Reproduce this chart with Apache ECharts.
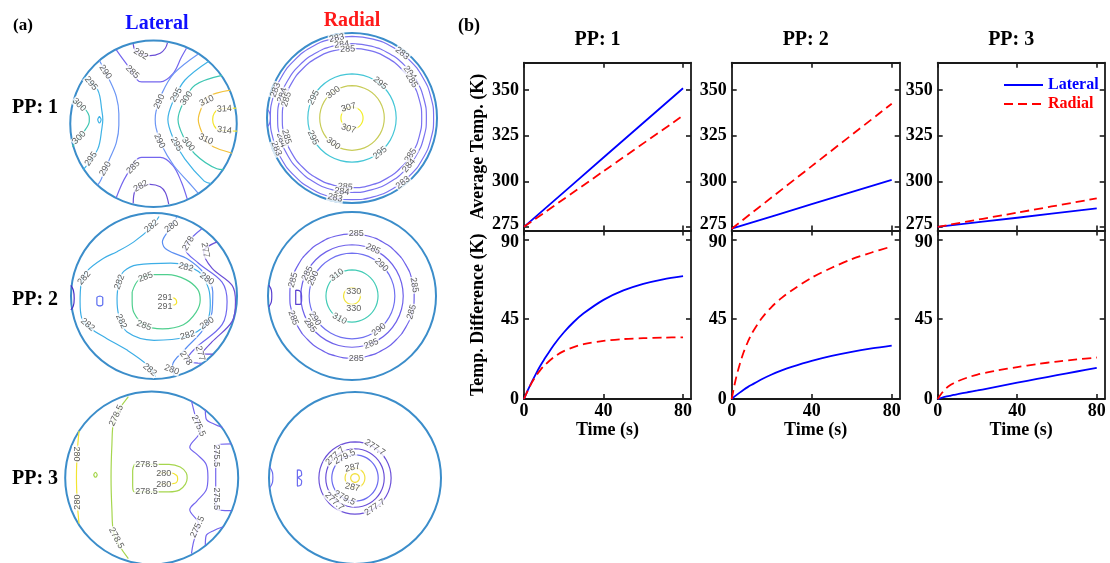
<!DOCTYPE html>
<html><head><meta charset="utf-8">
<script src="https://cdn.jsdelivr.net/npm/echarts@6/dist/echarts.min.js"></script>
<style>html,body{margin:0;padding:0;background:#fff}#c{width:1110px;height:563px}</style>
</head><body><div id="c"></div>
<script>
// ================= (b) DATA =================
const timeAvg = [0, 40, 80];
const avgLat1 = [275, 313, 351];
const avgRad1 = [275, 305.5, 336];
const avgLat2 = [274, 287.4, 300.7];
const avgRad2 = [274, 308.3, 342.5];
const avgLat3 = [275, 280, 285.1];
const avgRad3 = [275, 282.8, 290.6];

const timeDiff = [0, 2, 4, 6, 8, 10, 15, 20, 25, 30, 40, 50, 60, 70, 80];
const diffLat1 = [0, 5.1, 9.8, 14.2, 18.3, 22.0, 30.5, 37.5, 43.4, 48.3, 55.9, 61.2, 64.9, 67.5, 69.3];
const diffRad1 = [0, 5.0, 9.4, 13.0, 16.0, 18.6, 23.6, 27.0, 29.3, 30.9, 32.8, 33.8, 34.3, 34.6, 34.8];
const diffLat2 = [0, 1.9, 3.6, 5.2, 6.7, 8.0, 11.1, 13.8, 16.1, 18.1, 21.5, 24.3, 26.6, 28.5, 30.1];
const diffRad2 = [0, 11, 19.5, 26.5, 32, 36.8, 45.5, 52, 57, 61.2, 68.4, 74, 78.8, 82.6, 86];
const diffLat3 = [0, 0.7, 1.3, 1.8, 2.3, 2.7, 3.8, 4.8, 5.9, 7.0, 9.2, 11.3, 13.4, 15.5, 17.6];
const diffRad3 = [0, 3.2, 5.8, 7.6, 8.9, 10.0, 12.1, 13.8, 15.0, 16.1, 18.0, 19.7, 21.1, 22.3, 23.4];

const timeTicks = [0, 40, 80];
const avgTicks = [275, 300, 325, 350];
const diffTicks = [0, 45, 90];
const ppTitles = ['PP: 1', 'PP: 2', 'PP: 3'];

// ================= (a) DATA (normalised coords inside each disc) =================
const lat1Lines = [
 [282, [[-0.24,0.97],[-0.22,0.9],[-0.15,0.85],[-0.04,0.83],[0.08,0.86],[0.14,0.92],[0.165,0.986]]],
 [282, [[-0.24,-0.97],[-0.22,-0.82],[-0.15,-0.76],[-0.04,-0.74],[0.08,-0.77],[0.14,-0.84],[0.18,-0.98]]],
 [285, [[-0.44,0.90],[-0.32,0.73],[-0.14,0.51],[0.08,0.51],[0.23,0.61],[0.33,0.81],[0.39,0.92]]],
 [285, [[-0.44,-0.90],[-0.32,-0.63],[-0.14,-0.41],[0.08,-0.41],[0.23,-0.51],[0.33,-0.71],[0.40,-0.92]]],
 [290, [[-0.64,0.77],[-0.52,0.53],[-0.44,0.33],[-0.41,0.12],[-0.41,-0.02],[-0.44,-0.23],[-0.52,-0.43],[-0.62,-0.68],[-0.66,-0.75]]],
 [295, [[-0.82,0.57],[-0.66,0.41],[-0.61,0.15],[-0.60,0.05],[-0.61,-0.05],[-0.66,-0.31],[-0.83,-0.56]]],
 [300, [[-0.96,0.28],[-0.82,0.19],[-0.76,0.07],[-0.76,0.03],[-0.82,-0.09],[-0.96,-0.28]]],
 [290, [[0.53,0.85],[0.24,0.61],[0.10,0.37],[0.03,0.15],[0.02,0.05],[0.03,-0.05],[0.10,-0.27],[0.24,-0.51],[0.42,-0.72],[0.53,-0.85]]],
 [295, [[0.65,0.76],[0.37,0.53],[0.23,0.27],[0.17,0.05],[0.23,-0.17],[0.37,-0.43],[0.60,-0.70],[0.68,-0.73]]],
 [300, [[0.81,0.59],[0.49,0.47],[0.35,0.25],[0.29,0.05],[0.35,-0.15],[0.49,-0.37],[0.75,-0.55],[0.83,-0.56]]],
 [310, [[0.91,0.41],[0.64,0.33],[0.57,0.2],[0.53,0.05],[0.57,-0.1],[0.64,-0.23],[0.75,-0.3],[0.93,-0.36]]],
 [314, [[0.98,0.19],[0.78,0.18],[0.72,0.13],[0.70,0.05],[0.72,-0.03],[0.78,-0.08],[0.99,-0.09]]],
 [295, [[-0.64,0.09],[-0.62,0.05],[-0.64,0.01],[-0.66,0.05],[-0.64,0.09]]]
];
const lat1Labels = [
 [-0.15,0.85,-30,'282'],[-0.25,0.63,-45,'285'],[-0.57,0.63,-55,'290'],[-0.74,0.49,-50,'295'],[-0.88,0.23,-45,'300'],
 [-0.88,-0.17,45,'300'],[-0.74,-0.43,55,'295'],[-0.57,-0.55,60,'290'],[-0.24,-0.53,45,'285'],[-0.15,-0.76,30,'282'],
 [0.07,0.27,65,'290'],[0.27,0.35,60,'295'],[0.39,0.31,55,'300'],[0.63,0.28,25,'310'],[0.84,0.18,3,'314'],
 [0.84,-0.08,-8,'314'],[0.62,-0.19,-25,'310'],[0.07,-0.21,-65,'290'],[0.27,-0.25,-60,'295'],[0.41,-0.25,-50,'300']
];

const lat2Lines = [
 [282, [[0.06,0.97],[-0.04,0.83],[-0.24,0.66],[-0.44,0.54],[-0.60,0.46],[-0.80,0.30],[-0.87,0.13],[-0.88,-0.07],[-0.86,-0.27],[-0.76,-0.39],[-0.56,-0.52],[-0.32,-0.66],[-0.08,-0.84],[0.02,-0.98]]],
 [282, [[-0.42,0.17],[-0.36,0.30],[-0.2,0.38],[0.2,0.40],[0.53,0.30],[0.65,0.09],[0.67,-0.11],[0.61,-0.35],[0.37,-0.5],[0.0,-0.54],[-0.32,-0.44],[-0.42,-0.23],[-0.44,-0.03],[-0.42,0.17]]],
 [285, [[-0.26,0.05],[-0.18,0.2],[0.0,0.26],[0.16,0.26],[0.38,0.2],[0.52,0.08],[0.55,-0.05],[0.5,-0.2],[0.35,-0.35],[0.1,-0.4],[-0.12,-0.35],[-0.24,-0.2],[-0.26,-0.07],[-0.26,0.05]]],
 [291, [[0.22,-0.02],[0.26,-0.04],[0.27,-0.08],[0.24,-0.11],[0.21,-0.11]]],
 [280, [[0.27,0.96],[0.16,0.78],[0.10,0.66],[0.16,0.56],[0.40,0.45],[0.60,0.27],[0.70,0.05],[0.69,-0.2],[0.58,-0.42],[0.36,-0.66],[0.22,-0.85],[0.24,-0.97]]],
 [278, [[0.57,0.82],[0.37,0.58],[0.53,0.40],[0.81,0.17],[0.87,-0.07],[0.81,-0.35],[0.49,-0.64],[0.39,-0.78],[0.57,-0.82]]],
 [277, [[0.75,0.66],[0.59,0.54],[0.69,0.34],[0.93,0.13],[0.97,-0.07],[0.93,-0.31],[0.69,-0.56],[0.57,-0.70],[0.70,-0.71]]],
 [276, [[-0.645,0.0],[-0.61,-0.02],[-0.61,-0.1],[-0.645,-0.12],[-0.68,-0.1],[-0.68,-0.02],[-0.645,0.0]]],
 [275, [[-0.99,0.13],[-0.96,0.07],[-0.95,-0.03],[-0.96,-0.12],[-0.99,-0.17]]]
];
const lat2Labels = [
 [-0.03,0.85,40,'282'],[0.21,0.85,35,'280'],[0.41,0.64,60,'278'],[0.61,0.56,-80,'277'],
 [-0.83,0.22,50,'282'],[-0.41,0.17,70,'282'],[-0.10,0.23,20,'285'],[0.38,0.35,-15,'282'],[0.63,0.21,-35,'280'],
 [0.13,-0.02,0,'291'],[0.13,-0.13,0,'291'],
 [-0.79,-0.35,-40,'282'],[-0.39,-0.31,-65,'282'],[-0.12,-0.36,-20,'285'],[0.40,-0.48,15,'282'],[0.63,-0.33,35,'280'],
 [0.55,-0.70,-75,'277'],[0.38,-0.76,-55,'278'],[0.21,-0.9,-20,'280'],[-0.05,-0.9,-40,'282']
];

const lat3Lines = [
 [278.5, [[-0.27,0.94],[-0.44,0.65],[-0.46,0.38],[-0.47,0],[-0.46,-0.38],[-0.44,-0.65],[-0.27,-0.95]]],
 [280, [[-0.84,0.54],[-0.86,0.3],[-0.87,0],[-0.86,-0.3],[-0.84,-0.54]]],
 [278.5, [[-0.2,0.15],[0.2,0.15],[0.33,0.12],[0.4,0.05],[0.41,-0.01],[0.39,-0.08],[0.32,-0.15],[0.2,-0.17],[-0.2,-0.17],[-0.22,-0.1],[-0.22,0.08],[-0.2,0.15]]],
 [280, [[0.08,0.05],[0.22,0.05],[0.29,0.02],[0.3,-0.02],[0.27,-0.07],[0.1,-0.08]]],
 [275.5, [[0.46,0.89],[0.5,0.73],[0.56,0.54],[0.44,0.35],[0.52,0.27],[0.63,0.15],[0.65,0],[0.63,-0.15],[0.52,-0.28],[0.44,-0.38],[0.54,-0.54],[0.48,-0.77],[0.46,-0.89]]],
 [275.5, [[0.92,0.39],[0.75,0.37],[0.74,0.15],[0.74,-0.15],[0.75,-0.37],[0.92,-0.39]]],
 [275.5, [[0.62,0.79],[0.63,0.68],[0.72,0.62],[0.82,0.58]]],
 [275.5, [[0.62,-0.79],[0.63,-0.68],[0.72,-0.62],[0.82,-0.58]]],
 [278.5, [[-0.65,0.06],[-0.63,0.03],[-0.65,0.0],[-0.67,0.03],[-0.65,0.06]]]
];
const lat3Labels = [
 [-0.41,0.72,65,'278.5'],[-0.87,0.27,-90,'280'],[-0.86,-0.29,90,'280'],
 [-0.06,0.15,0,'278.5'],[0.14,0.04,0,'280'],[0.14,-0.08,0,'280'],[-0.06,-0.17,0,'278.5'],
 [0.54,0.6,-65,'275.5'],[0.745,0.25,-90,'275.5'],[0.745,-0.25,-90,'275.5'],[0.53,-0.58,65,'275.5'],
 [-0.41,-0.71,-62,'278.5']
];

const ringAngles = [0,15,30,45,60,75,90,105,120,135,150,165,180,195,210,225,240,255,270,285,300,315,330,345,360];
const rad1Rings = [[283,0.96],[284,0.875],[285,0.82],[295,0.52],[300,0.38],[307,0.13]];
const rad2Rings = [[285,0.74],[285,0.61],[290,0.51],[310,0.31],[330,0.1]];
const rad3Rings = [[277.7,0.42],[277.7,0.34],[279.5,0.27],[287,0.115],[287,0.05]];

const rad1Lines = [
 [283, [[-0.99,0.1],[-0.965,0.05],[-0.96,0],[-0.965,-0.05],[-0.99,-0.1]]]
];
const rad2Lines = [
 [280, [[-0.67,0.07],[-0.62,0.06],[-0.6,0.0],[-0.6,-0.05],[-0.62,-0.1],[-0.67,-0.1],[-0.67,0.07]]],
 [280, [[-0.99,0.13],[-0.96,0.07],[-0.955,0],[-0.96,-0.07],[-0.99,-0.13]]]
];
const rad3Lines = [
 [279.5, [[-0.67,0.09],[-0.63,0.08],[-0.62,0.03],[-0.66,0.0],[-0.62,-0.04],[-0.63,-0.09],[-0.67,-0.1],[-0.67,0.09]]],
 [279.5, [[-0.99,0.12],[-0.96,0.06],[-0.955,0],[-0.96,-0.06],[-0.99,-0.12]]]
];
const rad1Labels = [
 [-0.18,0.94,11,'283'],[-0.12,0.865,6,'284'],[-0.05,0.81,2,'285'],[0.59,0.76,-38,'283'],[0.68,0.53,-52,'284'],[0.70,0.44,-58,'285'],
 [-0.90,0.33,70,'283'],[-0.82,0.27,72,'284'],[-0.77,0.22,74,'285'],
 [-0.89,-0.36,-68,'283'],[-0.83,-0.26,-72,'284'],[-0.77,-0.22,-74,'285'],
 [0.69,-0.44,57,'285'],[0.67,-0.56,50,'284'],[0.60,-0.76,38,'283'],
 [-0.08,-0.81,-5,'285'],[-0.12,-0.865,-8,'284'],[-0.2,-0.94,-12,'283'],
 [0.33,0.41,-39,'295'],[-0.22,0.30,37,'300'],[-0.45,0.24,62,'295'],
 [-0.04,0.125,15,'307'],[-0.04,-0.125,-15,'307'],
 [-0.46,-0.23,-64,'295'],[-0.22,-0.30,-36,'300'],[0.33,-0.41,38,'295']
];
const rad2Labels = [
 [0.05,0.74,0,'285'],[0.25,0.56,-24,'285'],[0.35,0.37,-44,'290'],
 [-0.70,0.19,74,'285'],[-0.53,0.27,63,'285'],[-0.46,0.21,66,'290'],[-0.18,0.25,36,'310'],
 [0.02,0.05,0,'330'],[0.02,-0.15,0,'330'],
 [-0.15,-0.27,-29,'310'],[-0.44,-0.27,-58,'290'],[-0.50,-0.35,-55,'285'],[-0.70,-0.26,-69,'285'],
 [0.32,-0.40,39,'290'],[0.23,-0.57,22,'285'],[0.05,-0.74,0,'285'],
 [0.74,0.13,-80,'285'],[0.71,-0.19,74,'285']
];
const rad3Labels = [
 [0.23,0.35,-33,'277.7'],[-0.23,0.25,43,'277.7'],[-0.12,0.24,27,'279.5'],
 [-0.03,0.115,12,'287'],[-0.03,-0.115,-12,'287'],
 [-0.12,-0.24,-27,'279.5'],[-0.24,-0.28,-43,'277.7'],[0.23,-0.35,33,'277.7']
];

// ================= STYLE / LAYOUT =================
const SERIF = '"Liberation Serif","Times New Roman",serif';
const aLayout = [
 {cx:153.5, cy:123.7, rx:84.5, ry:82},
 {cx:352, cy:118, rx:85, ry:85},
 {cx:154, cy:296, rx:84, ry:82},
 {cx:352, cy:296, rx:84, ry:84},
 {cx:151.7, cy:478, rx:86.5, ry:86.5},
 {cx:355, cy:478, rx:86, ry:86}
];
const aColors = [
 {282:'#6b4fd6',285:'#7466ee',290:'#6c96f4',295:'#3fb3e6',300:'#3ec6b2',310:'#f2c23a',314:'#f4e428'},
 {283:'#7a72f0',284:'#7a72f0',285:'#7a72f0',295:'#44c6d6',300:'#c8cc58',307:'#f2ee2a'},
 {275:'#4a2fc8',276:'#5a6cf0',277:'#6b4fd6',278:'#6f68ee',280:'#5a8ef2',282:'#3daee6',285:'#4fcf8e',291:'#f6e42a'},
 {280:'#5a3fd0',285:'#6f62ea',290:'#7070f0',310:'#44ccb6',330:'#f2e43a'},
 {275.5:'#7466ee',278.5:'#a6d64e',280:'#f2e430'},
 {277.7:'#6b50d8',279.5:'#6c6cf0',287:'#f2e040'}
];
const aLines = [lat1Lines, rad1Lines, lat2Lines, rad2Lines, lat3Lines, rad3Lines];
const aLabels = [lat1Labels, rad1Labels, lat2Labels, rad2Labels, lat3Labels, rad3Labels];
const aRings = [null, rad1Rings, null, rad2Rings, null, rad3Rings];

const grids = [], xAxes = [], yAxes = [], series = [], polars = [], angleAxes = [], radiusAxes = [];

aLayout.forEach((p, i) => {
  grids.push({left:p.cx-p.rx, top:p.cy-p.ry, width:2*p.rx, height:2*p.ry});
  xAxes.push({gridIndex:i, type:'value', min:-1, max:1, show:false});
  yAxes.push({gridIndex:i, type:'value', min:-1, max:1, show:false});
  polars.push({center:[p.cx, p.cy], radius:(p.rx+p.ry)/2});
  angleAxes.push({polarIndex:i, type:'value', min:0, max:360, axisLine:{show:true, lineStyle:{color:'#3b8dca', width:2}},
    axisTick:{show:false}, axisLabel:{show:false}, splitLine:{show:false}});
  radiusAxes.push({polarIndex:i, type:'value', min:0, max:1, show:false, splitLine:{show:false}, axisLine:{show:false}});
  aLines[i].forEach(([lvl, pts]) => series.push({
    type:'line', xAxisIndex:i, yAxisIndex:i, data:pts, smooth:0.35, symbol:'none', silent:true, z:3,
    lineStyle:{color:aColors[i][lvl], width:1.2}
  }));
  if (aRings[i]) aRings[i].forEach(([lvl, rr]) => series.push({
    type:'line', coordinateSystem:'polar', polarIndex:i, data:ringAngles.map(a => [rr, a]),
    smooth:0.5, symbol:'none', silent:true, z:3, lineStyle:{color:aColors[i][lvl], width:1.2}
  }));
  series.push({
    type:'scatter', xAxisIndex:i, yAxisIndex:i, symbolSize:1, silent:true, z:6,
    itemStyle:{color:'rgba(0,0,0,0)'},
    data:aLabels[i].map(([u, v, rot, t]) => ({value:[u, v], name:t, label:{rotate:rot}})),
    label:{show:true, position:'inside', formatter:'{b}', fontSize:9, color:'#333',
      fontFamily:'"Liberation Sans",Arial,sans-serif', backgroundColor:'#fff', padding:[0,1]}
  });
});

// ---- (b) ----
const bCols = [{left:524, width:167}, {left:731.7, width:168}, {left:937.7, width:167}];
const topRow = {top:62.7, height:167.8};
const botRow = {top:230.5, height:168.5};
const avgLat = [avgLat1, avgLat2, avgLat3], avgRad = [avgRad1, avgRad2, avgRad3];
const diffLat = [diffLat1, diffLat2, diffLat3], diffRad = [diffRad1, diffRad2, diffRad3];

const lineCol = '#1a1a1a';
const axLine = {show:true, onZero:false, lineStyle:{color:lineCol, width:1.8}};
const tickIn = vals => ({show:true, inside:true, length:5, lineStyle:{color:lineCol, width:1.6}, customValues:vals});
const lblStyle = {color:'#000', fontFamily:SERIF, fontWeight:'bold', fontSize:18};
const nameStyle = {color:'#000', fontFamily:SERIF, fontWeight:'bold', fontSize:18};
const richLbl = {
  n:{fontFamily:SERIF, fontWeight:'bold', fontSize:18, color:'#000'},
  up:{fontFamily:SERIF, fontWeight:'bold', fontSize:18, color:'#000', padding:[0,0,6,0]},
  dn:{fontFamily:SERIF, fontWeight:'bold', fontSize:18, color:'#000', padding:[5,0,0,0]}
};

function addPlot(col, row, isTop, c) {
  const gi = grids.length;
  grids.push({left:col.left, top:row.top, width:col.width, height:row.height});
  const xb = xAxes.length;
  xAxes.push({gridIndex:gi, type:'value', position:'bottom', min:0, max:84, axisLine:axLine,
    axisTick:tickIn(timeTicks), splitLine:{show:false},
    axisLabel:isTop ? {show:false} : Object.assign({show:true, margin:3, customValues:timeTicks}, lblStyle),
    name:isTop ? '' : 'Time (s)', nameLocation:'middle', nameGap:20, nameTextStyle:nameStyle});
  xAxes.push({gridIndex:gi, type:'value', position:'top', min:0, max:84, axisLine:axLine,
    axisTick:tickIn(timeTicks), axisLabel:{show:false}, splitLine:{show:false}});
  const yl = yAxes.length;
  const ymin = isTop ? 273 : 0, ymax = isTop ? 365 : 95, yt = isTop ? avgTicks : diffTicks;
  const edgeVal = isTop ? yt[0] : yt[yt.length - 1];
  const edgeStyle = isTop ? 'up' : 'dn';
  yAxes.push({gridIndex:gi, type:'value', position:'left', min:ymin, max:ymax, axisLine:axLine,
    axisTick:tickIn(yt), splitLine:{show:false},
    axisLabel:Object.assign({show:true, margin:5, customValues:yt, rich:richLbl,
      formatter:v => v === edgeVal ? '{' + edgeStyle + '|' + v + '}' : '{n|' + v + '}'}, lblStyle),
    name:c === 0 ? (isTop ? 'Average Temp. (K)' : 'Temp. Difference (K)') : '',
    nameLocation:'middle', nameGap:37, nameTextStyle:nameStyle});
  yAxes.push({gridIndex:gi, type:'value', position:'right', min:ymin, max:ymax, axisLine:axLine,
    axisTick:tickIn(yt), axisLabel:{show:false}, splitLine:{show:false}});
  const tArr = isTop ? timeAvg : timeDiff;
  const lat = isTop ? avgLat[c] : diffLat[c];
  const rad = isTop ? avgRad[c] : diffRad[c];
  series.push({name:'Lateral', type:'line', xAxisIndex:xb, yAxisIndex:yl, smooth:0.3, symbol:'none', z:4,
    data:tArr.map((t, k) => [t, lat[k]]), lineStyle:{color:'#0000ff', width:1.8}, itemStyle:{color:'#0000ff'}});
  series.push({name:'Radial', type:'line', xAxisIndex:xb, yAxisIndex:yl, smooth:0.3, symbol:'none', z:4,
    data:tArr.map((t, k) => [t, rad[k]]), lineStyle:{color:'#ff0000', width:1.8, type:[9,5]}, itemStyle:{color:'#ff0000'}});
}
bCols.forEach((col, c) => addPlot(col, topRow, true, c));
bCols.forEach((col, c) => addPlot(col, botRow, false, c));

const txt = (x, y, text, size, color, align) => ({type:'text', x, y, silent:true,
  style:{text, fill:color || '#000', font:'bold ' + size + 'px ' + SERIF, align:align || 'center', verticalAlign:'middle'}});

const graphics = [
  txt(13, 26, '(a)', 17, '#000', 'left'),
  txt(157, 24, 'Lateral', 20, '#1010ff'),
  txt(352, 21, 'Radial', 20, '#ff1a1a'),
  txt(12, 108, 'PP: 1', 20, '#000', 'left'),
  txt(12, 300, 'PP: 2', 20, '#000', 'left'),
  txt(12, 479, 'PP: 3', 20, '#000', 'left'),
  txt(458, 26, '(b)', 18, '#000', 'left')
];
bCols.forEach((col, c) => graphics.push(txt(col.left + col.width / 2 - 10, 40, ppTitles[c], 20)));

const option = {
  animation:false,
  backgroundColor:'#fff',
  grid:grids, xAxis:xAxes, yAxis:yAxes,
  polar:polars, angleAxis:angleAxes, radiusAxis:radiusAxes,
  legend:{
    left:998, top:72, orient:'vertical', itemWidth:39, itemHeight:12, itemGap:3,
    itemStyle:{opacity:0, color:'rgba(0,0,0,0)', borderWidth:0},
    data:[{name:'Lateral', textStyle:{color:'#0000ff'}}, {name:'Radial', textStyle:{color:'#ff0000'}}],
    textStyle:{fontFamily:SERIF, fontWeight:'bold', fontSize:16}
  },
  graphic:graphics,
  series:series
};
const chart = echarts.init(document.getElementById('c'));
chart.setOption(option);
</script>
</body></html>
